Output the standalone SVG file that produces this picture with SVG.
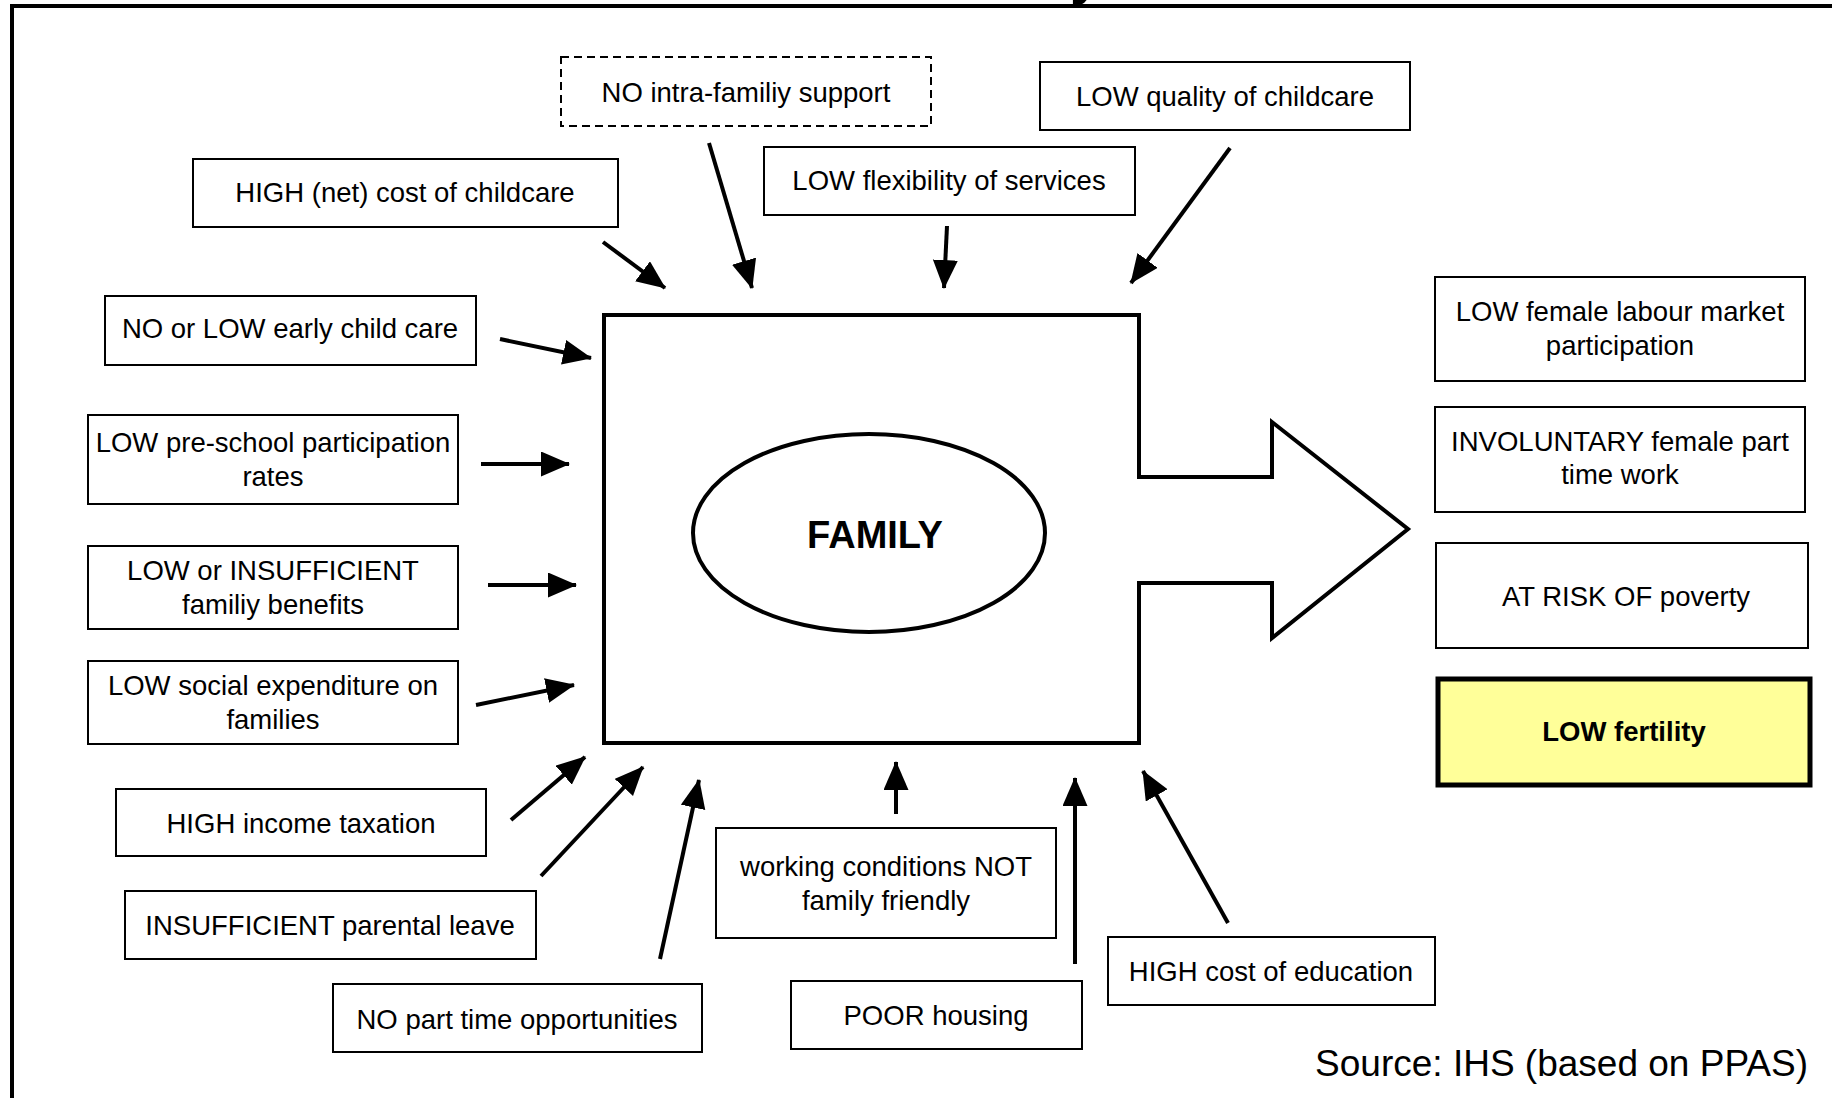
<svg xmlns="http://www.w3.org/2000/svg" width="1832" height="1098" viewBox="0 0 1832 1098">
<style>
.box{fill:#fff;stroke:#000;stroke-width:2}
.dash{stroke-dasharray:8 5}
.t{font-family:"Liberation Sans",Arial,sans-serif;font-size:27.5px;fill:#000;text-anchor:middle}
.b{font-weight:bold}
.arr{stroke:#000;stroke-width:4;fill:none;marker-end:url(#ah)}
</style>
<defs>
<marker id="ah" markerUnits="userSpaceOnUse" markerWidth="30" markerHeight="26" refX="28" refY="12.5" orient="auto">
<path d="M0,0 L29,12.5 L0,25 z" fill="#000"/>
</marker>
</defs>
<rect width="1832" height="1098" fill="#fff"/>
<g id="frame">
<path d="M12,1098 V6 H1832" fill="none" stroke="#000" stroke-width="4"/>
<text x="1070" y="-7" font-family="Liberation Sans,Arial,sans-serif" font-weight="bold" font-size="56">y</text>
</g>
<g id="family">
<path d="M604,315 H1139 V477 H1272 V422 L1408,529 L1272,638 V583 H1139 V743 H604 Z" fill="#fff" stroke="#000" stroke-width="4" stroke-linejoin="miter"/>
<ellipse cx="869" cy="533" rx="176" ry="99" fill="#fff" stroke="#000" stroke-width="4"/>
<text class="t b" x="875" y="548" font-size="38" style="font-size:38px">FAMILY</text>
</g>
<g id="connectors">
<line class="arr" x1="603" y1="242" x2="665" y2="288"/>
<line class="arr" x1="709" y1="143" x2="752" y2="288"/>
<line class="arr" x1="947" y1="226" x2="944" y2="288"/>
<line class="arr" x1="1230" y1="148" x2="1131" y2="283"/>
<line class="arr" x1="500" y1="339" x2="591" y2="358"/>
<line class="arr" x1="481" y1="464" x2="569" y2="464"/>
<line class="arr" x1="488" y1="585" x2="576" y2="585"/>
<line class="arr" x1="476" y1="705" x2="574" y2="685"/>
<line class="arr" x1="511" y1="820" x2="585" y2="757"/>
<line class="arr" x1="541" y1="876" x2="643" y2="767"/>
<line class="arr" x1="660" y1="959" x2="699" y2="780"/>
<line class="arr" x1="896" y1="814" x2="896" y2="762"/>
<line class="arr" x1="1075" y1="964" x2="1075" y2="778"/>
<line class="arr" x1="1228" y1="923" x2="1143" y2="771"/>
</g>
<g id="n-nointra"><rect class="box dash" x="561" y="57" width="370" height="69"/><text class="t" x="746" y="102">NO intra-familiy support</text></g>
<g id="n-lowquality"><rect class="box" x="1040" y="62" width="370" height="68"/><text class="t" x="1225" y="106">LOW quality of childcare</text></g>
<g id="n-highnet"><rect class="box" x="193" y="159" width="425" height="68"/><text class="t" x="405" y="202">HIGH (net) cost of childcare</text></g>
<g id="n-lowflex"><rect class="box" x="764" y="147" width="371" height="68"/><text class="t" x="949" y="190">LOW flexibility of services</text></g>
<g id="n-nolow"><rect class="box" x="105" y="296" width="371" height="69"/><text class="t" x="290" y="338">NO or LOW early child care</text></g>
<g id="n-preschool"><rect class="box" x="88" y="415" width="370" height="89"/><text class="t" x="273" y="452">LOW pre-school participation</text><text class="t" x="273" y="486">rates</text></g>
<g id="n-famben"><rect class="box" x="88" y="546" width="370" height="83"/><text class="t" x="273" y="580">LOW or INSUFFICIENT</text><text class="t" x="273" y="614">familiy benefits</text></g>
<g id="n-socexp"><rect class="box" x="88" y="661" width="370" height="83"/><text class="t" x="273" y="695">LOW social expenditure on</text><text class="t" x="273" y="729">families</text></g>
<g id="n-income"><rect class="box" x="116" y="789" width="370" height="67"/><text class="t" x="301" y="833">HIGH income taxation</text></g>
<g id="n-parental"><rect class="box" x="125" y="891" width="411" height="68"/><text class="t" x="330" y="935">INSUFFICIENT parental leave</text></g>
<g id="n-parttime"><rect class="box" x="333" y="984" width="369" height="68"/><text class="t" x="517" y="1029">NO part time opportunities</text></g>
<g id="n-working"><rect class="box" x="716" y="828" width="340" height="110"/><text class="t" x="886" y="876">working conditions NOT</text><text class="t" x="886" y="910">family friendly</text></g>
<g id="n-housing"><rect class="box" x="791" y="981" width="291" height="68"/><text class="t" x="936" y="1025">POOR housing</text></g>
<g id="n-education"><rect class="box" x="1108" y="937" width="327" height="68"/><text class="t" x="1271" y="981">HIGH cost of education</text></g>
<g id="n-female"><rect class="box" x="1435" y="277" width="370" height="104"/><text class="t" x="1620" y="321">LOW female labour market</text><text class="t" x="1620" y="355">participation</text></g>
<g id="n-involuntary"><rect class="box" x="1435" y="407" width="370" height="105"/><text class="t" x="1620" y="451">INVOLUNTARY female part</text><text class="t" x="1620" y="484">time work</text></g>
<g id="n-risk"><rect class="box" x="1436" y="543" width="372" height="105"/><text class="t" x="1626" y="606">AT RISK OF poverty</text></g>
<g id="n-fertility"><rect x="1438" y="679" width="372" height="106" fill="#FFFF99" stroke="#000" stroke-width="5"/><text class="t b" x="1624" y="741">LOW fertility</text></g>
<g id="source"><text x="1808" y="1076" font-family="Liberation Sans,Arial,sans-serif" font-size="37" text-anchor="end">Source: IHS (based on PPAS)</text></g>
</svg>
